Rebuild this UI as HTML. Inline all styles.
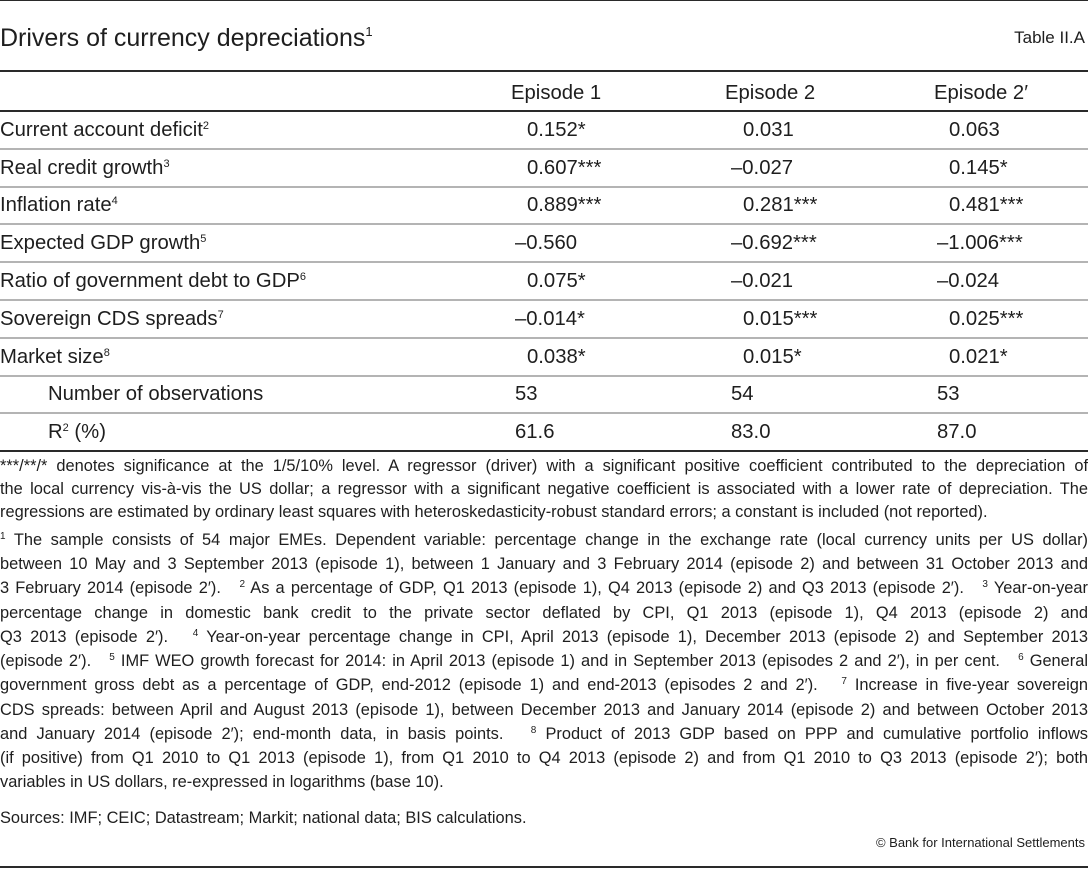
<!DOCTYPE html>
<html><head><meta charset="utf-8">
<style>
html,body{margin:0;padding:0;background:#fff;}
body{width:1088px;height:869px;position:relative;overflow:hidden;font-family:"Liberation Sans",sans-serif;color:#1e1e1e;}
.a{position:absolute;white-space:nowrap;}
.hl{position:absolute;left:0;width:1088px;}
.dark{background:#2a2a2a;height:2px;}
.grey{background:#b4b4b4;height:2px;}
.t{font-size:20.3px;line-height:24px;}
sup{font-size:11px;vertical-align:0;position:relative;top:-7px;}
.n{font-size:16.4px;line-height:20px;}
.j{text-align:justify;text-align-last:justify;width:1088px;left:0;}
.fs{font-size:10px;top:-6px;}
</style></head><body>
<div class="hl dark" style="top:0;height:1px"></div>
<div class="a" style="left:0;top:23px;font-size:25px;line-height:30px">Drivers of currency depreciations<sup style="font-size:13px;top:-10px">1</sup></div>
<div class="a" style="right:3px;top:27px;font-size:17px;line-height:22px">Table II.A</div>
<div class="hl dark" style="top:70px"></div>

<div class="a t" style="left:511px;top:81px">Episode 1</div>
<div class="a t" style="left:725px;top:81px">Episode 2</div>
<div class="a t" style="left:934px;top:81px">Episode 2′</div>
<div class="hl dark" style="top:110px"></div>

<div class="a t" style="left:0;top:118px">Current account deficit<sup>2</sup></div>
<div class="a t" style="left:527px;top:118px">0.152*</div>
<div class="a t" style="left:743px;top:118px">0.031</div>
<div class="a t" style="left:949px;top:118px">0.063</div>
<div class="hl grey" style="top:148px"></div>

<div class="a t" style="left:0;top:156px">Real credit growth<sup>3</sup></div>
<div class="a t" style="left:527px;top:156px">0.607***</div>
<div class="a t" style="left:731px;top:156px">–0.027</div>
<div class="a t" style="left:949px;top:156px">0.145*</div>
<div class="hl grey" style="top:186px"></div>

<div class="a t" style="left:0;top:193px">Inflation rate<sup>4</sup></div>
<div class="a t" style="left:527px;top:193px">0.889***</div>
<div class="a t" style="left:743px;top:193px">0.281***</div>
<div class="a t" style="left:949px;top:193px">0.481***</div>
<div class="hl grey" style="top:223px"></div>

<div class="a t" style="left:0;top:231px">Expected GDP growth<sup>5</sup></div>
<div class="a t" style="left:515px;top:231px">–0.560</div>
<div class="a t" style="left:731px;top:231px">–0.692***</div>
<div class="a t" style="left:937px;top:231px">–1.006***</div>
<div class="hl grey" style="top:261px"></div>

<div class="a t" style="left:0;top:269px">Ratio of government debt to GDP<sup>6</sup></div>
<div class="a t" style="left:527px;top:269px">0.075*</div>
<div class="a t" style="left:731px;top:269px">–0.021</div>
<div class="a t" style="left:937px;top:269px">–0.024</div>
<div class="hl grey" style="top:299px"></div>

<div class="a t" style="left:0;top:307px">Sovereign CDS spreads<sup>7</sup></div>
<div class="a t" style="left:515px;top:307px">–0.014*</div>
<div class="a t" style="left:743px;top:307px">0.015***</div>
<div class="a t" style="left:949px;top:307px">0.025***</div>
<div class="hl grey" style="top:337px"></div>

<div class="a t" style="left:0;top:345px">Market size<sup>8</sup></div>
<div class="a t" style="left:527px;top:345px">0.038*</div>
<div class="a t" style="left:743px;top:345px">0.015*</div>
<div class="a t" style="left:949px;top:345px">0.021*</div>
<div class="hl grey" style="top:375px"></div>

<div class="a t" style="left:48px;top:382px">Number of observations</div>
<div class="a t" style="left:515px;top:382px">53</div>
<div class="a t" style="left:731px;top:382px">54</div>
<div class="a t" style="left:937px;top:382px">53</div>
<div class="hl grey" style="top:412px"></div>

<div class="a t" style="left:48px;top:420px">R<sup>2</sup> (%)</div>
<div class="a t" style="left:515px;top:420px">61.6</div>
<div class="a t" style="left:731px;top:420px">83.0</div>
<div class="a t" style="left:937px;top:420px">87.0</div>
<div class="hl dark" style="top:450px"></div>

<div>
<div class="a n j" style="top:456px">***/**/* denotes significance at the 1/5/10% level. A regressor (driver) with a significant positive coefficient contributed to the depreciation of</div>
<div class="a n j" style="top:479px">the local currency vis-à-vis the US dollar; a regressor with a significant negative coefficient is associated with a lower rate of depreciation. The</div>
<div class="a n" style="left:0;top:502px">regressions are estimated by ordinary least squares with heteroskedasticity-robust standard errors; a constant is included (not reported).</div>
</div>

<div>
<div class="a n j" style="top:530px"><sup class="fs">1</sup> The sample consists of 54 major EMEs. Dependent variable: percentage change in the exchange rate (local currency units per US dollar)</div>
<div class="a n j" style="top:554px">between 10 May and 3 September 2013 (episode 1), between 1 January and 3 February 2014 (episode 2) and between 31 October 2013 and</div>
<div class="a n j" style="top:578px">3 February 2014 (episode 2′). &nbsp; <sup class="fs">2</sup> As a percentage of GDP, Q1 2013 (episode 1), Q4 2013 (episode 2) and Q3 2013 (episode 2′). &nbsp; <sup class="fs">3</sup> Year-on-year</div>
<div class="a n j" style="top:603px">percentage change in domestic bank credit to the private sector deflated by CPI, Q1 2013 (episode 1), Q4 2013 (episode 2) and</div>
<div class="a n j" style="top:627px">Q3 2013 (episode 2′). &nbsp; <sup class="fs">4</sup> Year-on-year percentage change in CPI, April 2013 (episode 1), December 2013 (episode 2) and September 2013</div>
<div class="a n j" style="top:651px">(episode 2′). &nbsp; <sup class="fs">5</sup> IMF WEO growth forecast for 2014: in April 2013 (episode 1) and in September 2013 (episodes 2 and 2′), in per cent. &nbsp; <sup class="fs">6</sup> General</div>
<div class="a n j" style="top:675px">government gross debt as a percentage of GDP, end-2012 (episode 1) and end-2013 (episodes 2 and 2′). &nbsp; <sup class="fs">7</sup> Increase in five-year sovereign</div>
<div class="a n j" style="top:700px">CDS spreads: between April and August 2013 (episode 1), between December 2013 and January 2014 (episode 2) and between October 2013</div>
<div class="a n j" style="top:724px">and January 2014 (episode 2′); end-month data, in basis points. &nbsp; <sup class="fs">8</sup> Product of 2013 GDP based on PPP and cumulative portfolio inflows</div>
<div class="a n j" style="top:748px">(if positive) from Q1 2010 to Q1 2013 (episode 1), from Q1 2010 to Q4 2013 (episode 2) and from Q1 2010 to Q3 2013 (episode 2′); both</div>
<div class="a n" style="left:0;top:772px">variables in US dollars, re-expressed in logarithms (base 10).</div>
</div>

<div class="a n" style="left:0;top:808px">Sources: IMF; CEIC; Datastream; Markit; national data; BIS calculations.</div>
<div class="a" style="right:3px;top:835px;font-size:13px;line-height:16px">© Bank for International Settlements</div>
<div class="hl dark" style="top:866px"></div>
</body></html>
